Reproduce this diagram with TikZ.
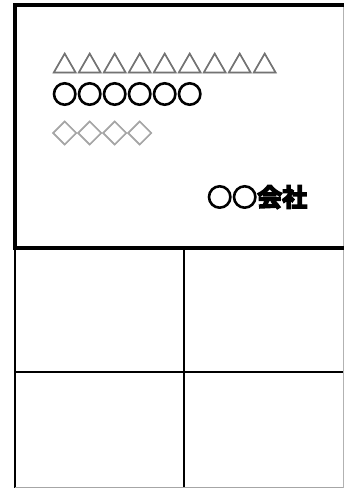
\documentclass[tikz,border=0pt]{standalone}
\usepackage{fontspec}
\newfontfamily\jpfont[FakeBold=3]{Noto Sans CJK JP}
\newfontfamily\jpheavy[FakeBold=6]{Noto Sans CJK JP Bold}
\begin{document}
\begin{tikzpicture}[x=1pt, y=-1pt,
	rowtext/.style={anchor=west, inner sep=0pt, font=\jpfont\fontsize{25}{25}\selectfont},
	heavytext/.style={rowtext, font=\jpheavy\fontsize{25}{25}\selectfont},
	frame/.style={line width=3.5pt},
	cell/.style={line width=1.6pt}]
	\useasboundingbox (0,0) rectangle (344,488);
	\clip (0,0) rectangle (344,488);
	\draw[cell] (15,248) -- (15,490);
	\draw[cell] (184,248) -- (184,490);
	\draw[cell] (15,372) -- (350,372);
	\draw[gray!70, line width=1pt] (15,487) -- (350,487);
	\draw[gray!60, line width=1pt] (343,5) -- (343,490);
	\draw[frame, line cap=rect] (350,5) -- (15,5) -- (15,248) -- (350,248);
	\node[rowtext, gray!90!black] (tri) at (52,63) {△△△△△△△△△};
	\node[heavytext, black] (circ) at (52,94) {○○○○○○};
	\node[rowtext, gray!70] (dia) at (52,133) {◇◇◇◇};
	\node[heavytext, black] (company) at (207,197) {○○会社};
\end{tikzpicture}
\end{document}
